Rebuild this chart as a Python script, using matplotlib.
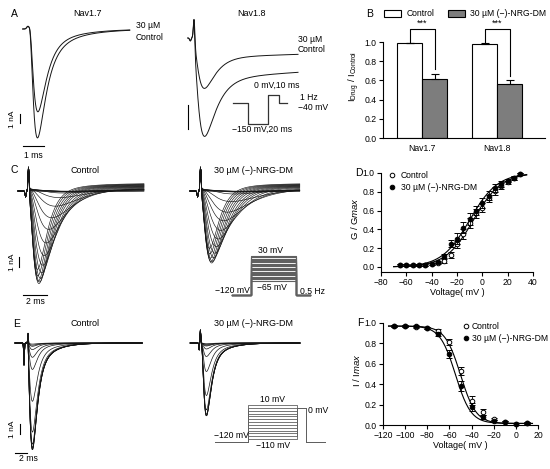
import numpy as np
import matplotlib
matplotlib.use('Agg')
import matplotlib.pyplot as plt
from matplotlib.patches import Patch
from matplotlib.lines import Line2D

plt.rcParams['font.family'] = ['Liberation Sans', 'DejaVu Sans']
plt.rcParams['axes.linewidth'] = 0.8
plt.rcParams['mathtext.fontset'] = 'custom'
plt.rcParams['mathtext.rm'] = 'Liberation Sans'
plt.rcParams['mathtext.it'] = 'Liberation Sans:italic'

W, H = 550, 469
fig = plt.figure(figsize=(W / 100, H / 100), dpi=100)

# ---------------- data ----------------
# Panel A: peak currents (nA), time to peak (ms), inactivation tau (ms), sustained fraction
a_nav17_amp = {'Control': 12.1, '30 µM': 9.2}
a_nav17_tp = {'Control': 0.38, '30 µM': 0.40}
a_nav17_th = {'Control': 0.40, '30 µM': 0.38}
a_nav17_slow = {'Control': 0.10, '30 µM': 0.08}
a_nav18_amp = {'Control': 4.1, '30 µM': 2.1}
a_nav18_tp = {'Control': 0.52, '30 µM': 0.52}
a_nav18_th = {'Control': 0.55, '30 µM': 0.50}
a_nav18_slow = {'Control': 0.13, '30 µM': 0.10}

# Panel B
bar_channels = ['Nav1.7', 'Nav1.8']
bar_control = [0.985, 0.98]
bar_control_err = [0.008, 0.008]
bar_drug = [0.615, 0.565]
bar_drug_err = [0.05, 0.035]
bar_names = ['Control', '30 µM (\u2212)-NRG-DM']

# Panel C: activation families (test potentials, peak nA, time to peak ms)
c_volts = [-65, -60, -55, -50, -45, -40, -35, -30, -25, -20, -15, -10, -5, 0, 5, 10, 15, 20, 25, 30]
c_amp_control = [0.1, 0.1, 0.1, 0.15, 0.2, 0.4, 0.9, 1.8, 3.0, 4.2, 5.6, 6.9, 7.9, 8.7, 9.3, 9.7, 9.9, 9.7, 9.2, 8.6]
c_amp_drug = [0.1, 0.1, 0.1, 0.15, 0.25, 0.5, 1.3, 2.4, 3.3, 4.3, 5.2, 6.0, 6.7, 7.2, 7.6, 7.8, 7.7, 7.4, 7.0, 6.5]
c_tp = [3.6, 3.6, 3.5, 3.4, 3.2, 3.0, 2.7, 2.35, 2.05, 1.8, 1.58, 1.42, 1.3, 1.2, 1.1, 1.03, 0.97, 0.92, 0.88, 0.85]

# Panel D: normalized conductance
d_volts = [-65, -60, -55, -50, -45, -40, -35, -30, -25, -20, -15, -10, -5, 0, 5, 10, 15, 20, 25, 30]
d_control = [0.02, 0.02, 0.02, 0.02, 0.02, 0.03, 0.04, 0.06, 0.13, 0.24, 0.35, 0.47, 0.57, 0.63, 0.73, 0.81, 0.86, 0.90, 0.95, 0.99]
d_control_err = [0.01, 0.01, 0.01, 0.01, 0.01, 0.01, 0.01, 0.02, 0.03, 0.04, 0.05, 0.05, 0.05, 0.05, 0.04, 0.04, 0.03, 0.02, 0.02, 0.01]
d_drug = [0.02, 0.02, 0.02, 0.02, 0.02, 0.03, 0.05, 0.12, 0.25, 0.30, 0.42, 0.51, 0.60, 0.68, 0.76, 0.84, 0.88, 0.92, 0.95, 0.99]
d_drug_err = [0.01, 0.01, 0.01, 0.01, 0.01, 0.01, 0.01, 0.02, 0.04, 0.06, 0.06, 0.06, 0.05, 0.05, 0.05, 0.04, 0.03, 0.02, 0.02, 0.01]
d_fit_control = {'vhalf': -7.0, 'k': 11.0}
d_fit_drug = {'vhalf': -10.0, 'k': 11.0}

# Panel F: steady-state inactivation
f_volts = [-110, -100, -90, -80, -70, -60, -50, -40, -30, -20, -10, 0, 10]
f_control = [0.97, 0.97, 0.96, 0.95, 0.92, 0.81, 0.53, 0.24, 0.13, 0.06, 0.03, 0.01, 0.02]
f_control_err = [0.01, 0.01, 0.01, 0.01, 0.02, 0.03, 0.04, 0.04, 0.03, 0.01, 0.01, 0.01, 0.01]
f_drug = [0.97, 0.97, 0.97, 0.95, 0.89, 0.70, 0.38, 0.18, 0.08, 0.04, 0.03, 0.01, 0.02]
f_drug_err = [0.01, 0.01, 0.01, 0.01, 0.02, 0.04, 0.05, 0.04, 0.02, 0.01, 0.01, 0.01, 0.01]
f_fit_control = {'vhalf': -50.0, 'k': 7.0}
f_fit_drug = {'vhalf': -54.5, 'k': 7.0}

# Panel E: maximal currents (nA) for the inactivation families
e_imax_control = 11.0
e_imax_drug = 7.5

# Voltage protocols
prot_a_levels = [-40, -150, 0, -40]
prot_a_durs = [15, 20, 11, 8]
prot_c_hold = -120
prot_e_hold = -120
prot_e_test = 0

TRACE = '#151515'


# ---------------- helpers ----------------
def px_axes(x0, y0, x1, y1):
    return fig.add_axes([x0 / W, 1 - y1 / H, (x1 - x0) / W, (y1 - y0) / H])


def mapped_axes(box, xa, xb, ya, yb):
    x0, y0, x1, y1 = box
    ax = px_axes(*box)
    sx = (xb[1] - xa[1]) / (xb[0] - xa[0])
    ax.set_xlim(xa[1] + (x0 - xa[0]) * sx, xa[1] + (x1 - xa[0]) * sx)
    sy = (yb[1] - ya[1]) / (yb[0] - ya[0])
    ax.set_ylim(ya[1] + (y1 - ya[0]) * sy, ya[1] + (y0 - ya[0]) * sy)
    ax.patch.set_alpha(0)
    return ax


def trace_axes(box, t0px, basepx, pxms, pxna):
    ax = mapped_axes(box, (t0px, 0), (t0px + pxms, 1), (basepx, 0), (basepx + pxna, -1))
    ax.axis('off')
    return ax


def ftext(x, y, s, **kw):
    kw.setdefault('va', 'center')
    kw.setdefault('ha', 'center')
    kw.setdefault('fontsize', 6.5)
    fig.text(x / W, 1 - y / H, s, **kw)


_xs = np.linspace(0.01, 30, 30000)
_fx = 3 * _xs * np.exp(-_xs) / (1 - np.exp(-_xs))


def na_current(t, amp, tp, f_slow=0.0, ts=3.0, th=None):
    if th is None:
        th = 0.8 * tp
    r = tp / th
    x = _xs[np.argmin(np.abs(_fx - r))]
    tm = tp / x
    tt = np.clip(t, 0, None)
    s = (1 - np.exp(-tt / tm)) ** 3 * ((1 - f_slow) * np.exp(-tt / th) + f_slow * np.exp(-tt / ts))
    return -amp * s / s.max()


def artifact(t, up, t_up, down, t_down, w):
    return up * np.exp(-((t - t_up) / w) ** 2) - down * np.exp(-((t - t_down) / w) ** 2)


def step_trace(levels, durs):
    ts, vs = [], []
    t = 0
    for lv, d in zip(levels, durs):
        ts += [t, t + d]
        vs += [lv, lv]
        t += d
    return ts, vs


def boltz_act(v, p):
    return 1 / (1 + np.exp((p['vhalf'] - v) / p['k']))


def boltz_inact(v, p):
    return 0.015 + (0.97 - 0.015) / (1 + np.exp((v - p['vhalf']) / p['k']))


# ---------------- panel A ----------------
ftext(14, 14, 'A', fontsize=7.5)
ftext(87, 14, 'Nav1.7')
ftext(251, 14, 'Nav1.8')

ax = trace_axes((10, 15, 145, 162), 29, 29, 21, 9)
t = np.arange(-0.3, 4.8, 0.004)
for key in ['Control', '30 µM']:
    y = na_current(t, a_nav17_amp[key], a_nav17_tp[key], a_nav17_slow[key], 1.4, a_nav17_th[key])
    y = y + artifact(t, 0.3, -0.05, 0.0, 0, 0.08)
    ax.plot(t, y, color=TRACE, lw=0.7)
ax.plot([-0.43, -0.43], [-9.5, -10.5], color='k', lw=0.8)
ax.plot([-0.29, 0.71], [-13.0, -13.0], color='k', lw=0.8)
ftext(12, 119, '1 nA', rotation=90, fontsize=6)
ftext(33, 156, '1 ms', fontsize=6.2)
ftext(136, 26, '30 µM', ha='left', fontsize=6.2)
ftext(136, 37, 'Control', ha='left', fontsize=6.2)

ax = trace_axes((180, 10, 300, 162), 192, 38, 21, 24)
t = np.arange(-0.2, 5.05, 0.004)
for key in ['Control', '30 µM']:
    y = na_current(t, a_nav18_amp[key], a_nav18_tp[key], a_nav18_slow[key], 25.0, a_nav18_th[key])
    y = y + artifact(t, 0.95, 0.1, 0.12, -0.08, 0.05)
    ax.plot(t, y, color=TRACE, lw=0.7)
ax.plot([-0.19, -0.19], [-2.8, -3.8], color='k', lw=0.8)
ftext(298, 39, '30 µM', ha='left', fontsize=6.2)
ftext(298, 50, 'Control', ha='left', fontsize=6.2)

ax = mapped_axes((225, 80, 300, 132), (233, 0), (234, 1), (95.3, 0), (114.3, -100))
ax.axis('off')
pt, pv = step_trace(prot_a_levels, prot_a_durs)
ax.plot(pt, pv, color='#333333', lw=0.9)
ftext(277, 85, '0 mV,10 ms', fontsize=6.2)
ftext(300, 98, '1 Hz', ha='left', fontsize=6.2)
ftext(298, 108, '\u221240 mV', ha='left', fontsize=6.2)
ftext(262, 129, '\u2212150 mV,20 ms', fontsize=6.2)

# ---------------- panel B ----------------
ftext(370, 14, 'B', fontsize=7.5)
axb = mapped_axes((383, 15, 545, 138), (422, 0), (497, 1), (138, 0), (42, 1))
axb.patch.set_alpha(1)
x = np.arange(len(bar_channels))
bw = 1 / 3
axb.bar(x - bw / 2, bar_control, bw, color='white', edgecolor='black', lw=0.8, zorder=2)
axb.bar(x + bw / 2, bar_drug, bw, color='#7d7d7d', edgecolor='black', lw=0.8, zorder=2)
axb.errorbar(x - bw / 2, bar_control, yerr=[[0, 0], bar_control_err], fmt='none', ecolor='black',
             elinewidth=0.8, capsize=3, capthick=0.8, zorder=3)
axb.errorbar(x + bw / 2, bar_drug, yerr=[[0, 0], bar_drug_err], fmt='none', ecolor='black',
             elinewidth=0.8, capsize=3, capthick=0.8, zorder=3)
for i in range(len(bar_channels)):
    top = 1.135
    xl, xr = x[i] - bw / 2, x[i] + bw / 2
    yl = bar_control[i] + bar_control_err[i] + 0.01
    yr = bar_drug[i] + bar_drug_err[i] + 0.05
    axb.plot([xl, xl, xr, xr], [yl, top, top, yr], color='black', lw=0.8, clip_on=False)
    axb.text((xl + xr) / 2, top + 0.015, '***', ha='center', va='bottom', fontsize=6.5)
axb.spines['top'].set_visible(False)
axb.spines['right'].set_visible(False)
axb.spines['left'].set_bounds(0, 1)
axb.set_yticks(np.arange(0, 1.01, 0.2))
axb.set_yticklabels(['%.1f' % v for v in np.arange(0, 1.01, 0.2)])
axb.set_xticks(x)
axb.set_xticklabels(bar_channels)
axb.tick_params(axis='y', length=3, width=0.8, labelsize=6.2, pad=1.5)
axb.tick_params(axis='x', length=0, labelsize=6.2, pad=4)
axb.set_ylabel(r'I$_{\mathrm{Drug}}$ / I$_{\mathrm{Control}}$', fontsize=6.8, labelpad=2)
handles = [Patch(facecolor='white', edgecolor='black', lw=0.8),
           Patch(facecolor='#7d7d7d', edgecolor='black', lw=0.8)]
fig.legend(handles, bar_names, loc='center left', bbox_to_anchor=(384 / W, 1 - 14 / H), ncol=2,
           frameon=False, fontsize=6.2, handlelength=2.0, handleheight=0.8, handletextpad=0.6,
           columnspacing=1.6, borderpad=0, borderaxespad=0)

# ---------------- panel C ----------------
ftext(14, 170, 'C', fontsize=7.5)
ftext(85, 170, 'Control')
ftext(253, 170, '30 µM (\u2212)-NRG-DM')

for box, t0px, amps, tend in [((10, 162, 150, 306), 27, c_amp_control, 9.75),
                              ((180, 162, 305, 306), 199, c_amp_drug, 8.4)]:
    ax = trace_axes(box, t0px, 191, 12, 10)
    t = np.arange(-0.75, tend, 0.005)
    for v, a, tp in zip(c_volts, amps, c_tp):
        y = na_current(t, a, tp, 0.03, 2.5) + 0.008 * (v + 65) * (t > 0.15)
        y = y + artifact(t, 2.4, 0.12, 0.6, -0.12, 0.06)
        ax.plot(t, y, color=TRACE, lw=0.45)
    if t0px == 27:
        ax.plot([-0.67, -0.67], [-6.6, -7.6], color='k', lw=0.8)
        ax.plot([-0.33, 1.67], [-10.4, -10.4], color='k', lw=0.8)
ftext(12, 262, '1 nA', rotation=90, fontsize=6)
ftext(35, 301, '2 ms', fontsize=6.2)

ax = mapped_axes((212, 245, 330, 300), (232, 0), (233, 1), (295, -120), (256, 30))
ax.axis('off')
for v in c_volts:
    pt, pv = step_trace([prot_c_hold, v, prot_c_hold], [19, 45, 14])
    ax.plot(pt, pv, color='#606060', lw=0.8)
ftext(271, 250, '30 mV', fontsize=6.2)
ftext(272, 287, '\u221265 mV', fontsize=6.2)
ftext(232, 290, '\u2212120 mV', fontsize=6.2)
ftext(313, 291, '0.5 Hz', fontsize=6.2)

# ---------------- panel D ----------------
ftext(359, 173, 'D', fontsize=7.5)
axd = mapped_axes((381, 166, 533, 272), (381, -80), (533, 40), (267, 0), (173, 1))
vfit = np.linspace(-70, 35, 200)
axd.plot(vfit, boltz_act(vfit, d_fit_control), color='black', lw=0.8)
axd.plot(vfit, boltz_act(vfit, d_fit_drug), color='black', lw=0.8)
axd.errorbar(d_volts, d_control, yerr=d_control_err, fmt='o', ms=3.3, mfc='white', mec='black', mew=0.7,
             ecolor='black', elinewidth=0.6, capsize=2, capthick=0.6, clip_on=False, zorder=3)
axd.errorbar(d_volts, d_drug, yerr=d_drug_err, fmt='o', ms=3.3, mfc='black', mec='black', mew=0.7,
             ecolor='black', elinewidth=0.6, capsize=2, capthick=0.6, clip_on=False, zorder=4)
axd.spines['top'].set_visible(False)
axd.spines['right'].set_visible(False)
axd.spines['left'].set_bounds(axd.get_ylim()[0], 1.0)
axd.set_xticks(np.arange(-80, 41, 20))
axd.set_yticks(np.arange(0, 1.01, 0.2))
axd.set_yticklabels(['%.1f' % v for v in np.arange(0, 1.01, 0.2)])
axd.tick_params(length=3, width=0.8, labelsize=6.2, pad=1.5)
axd.set_xlabel('Voltage( mV )', fontsize=6.5, labelpad=0.5)
axd.set_ylabel(r'G / G$\it{max}$', fontsize=6.8, labelpad=2)
hd = [Line2D([], [], marker='o', ls='none', ms=3.3, mfc='white', mec='black', mew=0.7),
      Line2D([], [], marker='o', ls='none', ms=3.3, mfc='black', mec='black', mew=0.7)]
axd.legend(hd, ['Control', '30 µM (\u2212)-NRG-DM'], loc='upper left',
           bbox_to_anchor=(389 / W, 1 - 171 / H), bbox_transform=fig.transFigure, frameon=False,
           fontsize=6.2, handlelength=0.8, handletextpad=0.6, borderpad=0, borderaxespad=0,
           labelspacing=0.35)

# ---------------- panel E ----------------
ftext(17, 324, 'E', fontsize=7.5)
ftext(85, 323, 'Control')
ftext(253, 323, '30 µM (\u2212)-NRG-DM')

for box, t0px, rel, imax, tstart, tend, art in [
        ((8, 318, 150, 468), 27, f_control, e_imax_control, -2.0, 19.2, (1.0, 0.17, 2.2, -0.5)),
        ((180, 318, 305, 468), 201, f_drug, e_imax_drug, -1.8, 16.5, (1.3, -0.1, 0.7, -0.3))]:
    ax = trace_axes(box, t0px, 343, 6, 10)
    t = np.arange(tstart, tend, 0.01)
    for r in rel:
        y = na_current(t, r * imax, 0.85, 0.07, 2.5)
        y = y + artifact(t, art[0], art[1], art[2], art[3], 0.09)
        ax.plot(t, y, color=TRACE, lw=0.5)
    if t0px == 27:
        ax.plot([-1.17, -1.17], [-8.1, -9.1], color='k', lw=0.8)
        ax.plot([-2.0, 0.0], [-11.0, -11.0], color='k', lw=0.8)
ftext(12, 429, '1 nA', rotation=90, fontsize=6)
ftext(28, 458, '2 ms', fontsize=6.2)

ax = mapped_axes((205, 395, 335, 452), (215, 0), (216, 1), (442, -120), (405, 10))
ax.axis('off')
for v in f_volts:
    pt, pv = step_trace([prot_e_hold, v, prot_e_test, prot_e_hold], [33, 49, 9, 19])
    ax.plot(pt, pv, color='#606060', lw=0.6)
ftext(272, 399, '10 mV', fontsize=6.2)
ftext(308, 410, '0 mV', ha='left', fontsize=6.2)
ftext(231, 435, '\u2212120 mV', fontsize=6.2)
ftext(273, 445, '\u2212110 mV', fontsize=6.2)

# ---------------- panel F ----------------
ftext(360, 323, 'F', fontsize=7.5)
axf = mapped_axes((383, 316, 538, 425), (383, -120), (538, 20), (425, 0), (323, 1))
vfit = np.linspace(-115, 15, 200)
axf.plot(vfit, boltz_inact(vfit, f_fit_control), color='black', lw=0.8)
axf.plot(vfit, boltz_inact(vfit, f_fit_drug), color='black', lw=0.8)
axf.errorbar(f_volts, f_control, yerr=f_control_err, fmt='o', ms=3.3, mfc='white', mec='black', mew=0.7,
             ecolor='black', elinewidth=0.6, capsize=2, capthick=0.6, clip_on=False, zorder=3)
axf.errorbar(f_volts, f_drug, yerr=f_drug_err, fmt='o', ms=3.3, mfc='black', mec='black', mew=0.7,
             ecolor='black', elinewidth=0.6, capsize=2, capthick=0.6, clip_on=False, zorder=4)
axf.spines['top'].set_visible(False)
axf.spines['right'].set_visible(False)
axf.spines['left'].set_bounds(0, 1.0)
axf.set_xticks(np.arange(-120, 21, 20))
axf.set_yticks(np.arange(0, 1.01, 0.2))
axf.set_yticklabels(['%.1f' % v for v in np.arange(0, 1.01, 0.2)])
axf.tick_params(length=3, width=0.8, labelsize=6.2, pad=1.5)
axf.set_xlabel('Voltage( mV )', fontsize=6.5, labelpad=0.5)
axf.set_ylabel(r'I / I$\it{max}$', fontsize=6.8, labelpad=2)
axf.legend(hd, ['Control', '30 µM (\u2212)-NRG-DM'], loc='upper left',
           bbox_to_anchor=(463 / W, 1 - 322 / H), bbox_transform=fig.transFigure, frameon=False,
           fontsize=6.2, handlelength=0.6, handletextpad=0.4, borderpad=0, borderaxespad=0,
           labelspacing=0.35)

fig.savefig('out.png', dpi=100)
